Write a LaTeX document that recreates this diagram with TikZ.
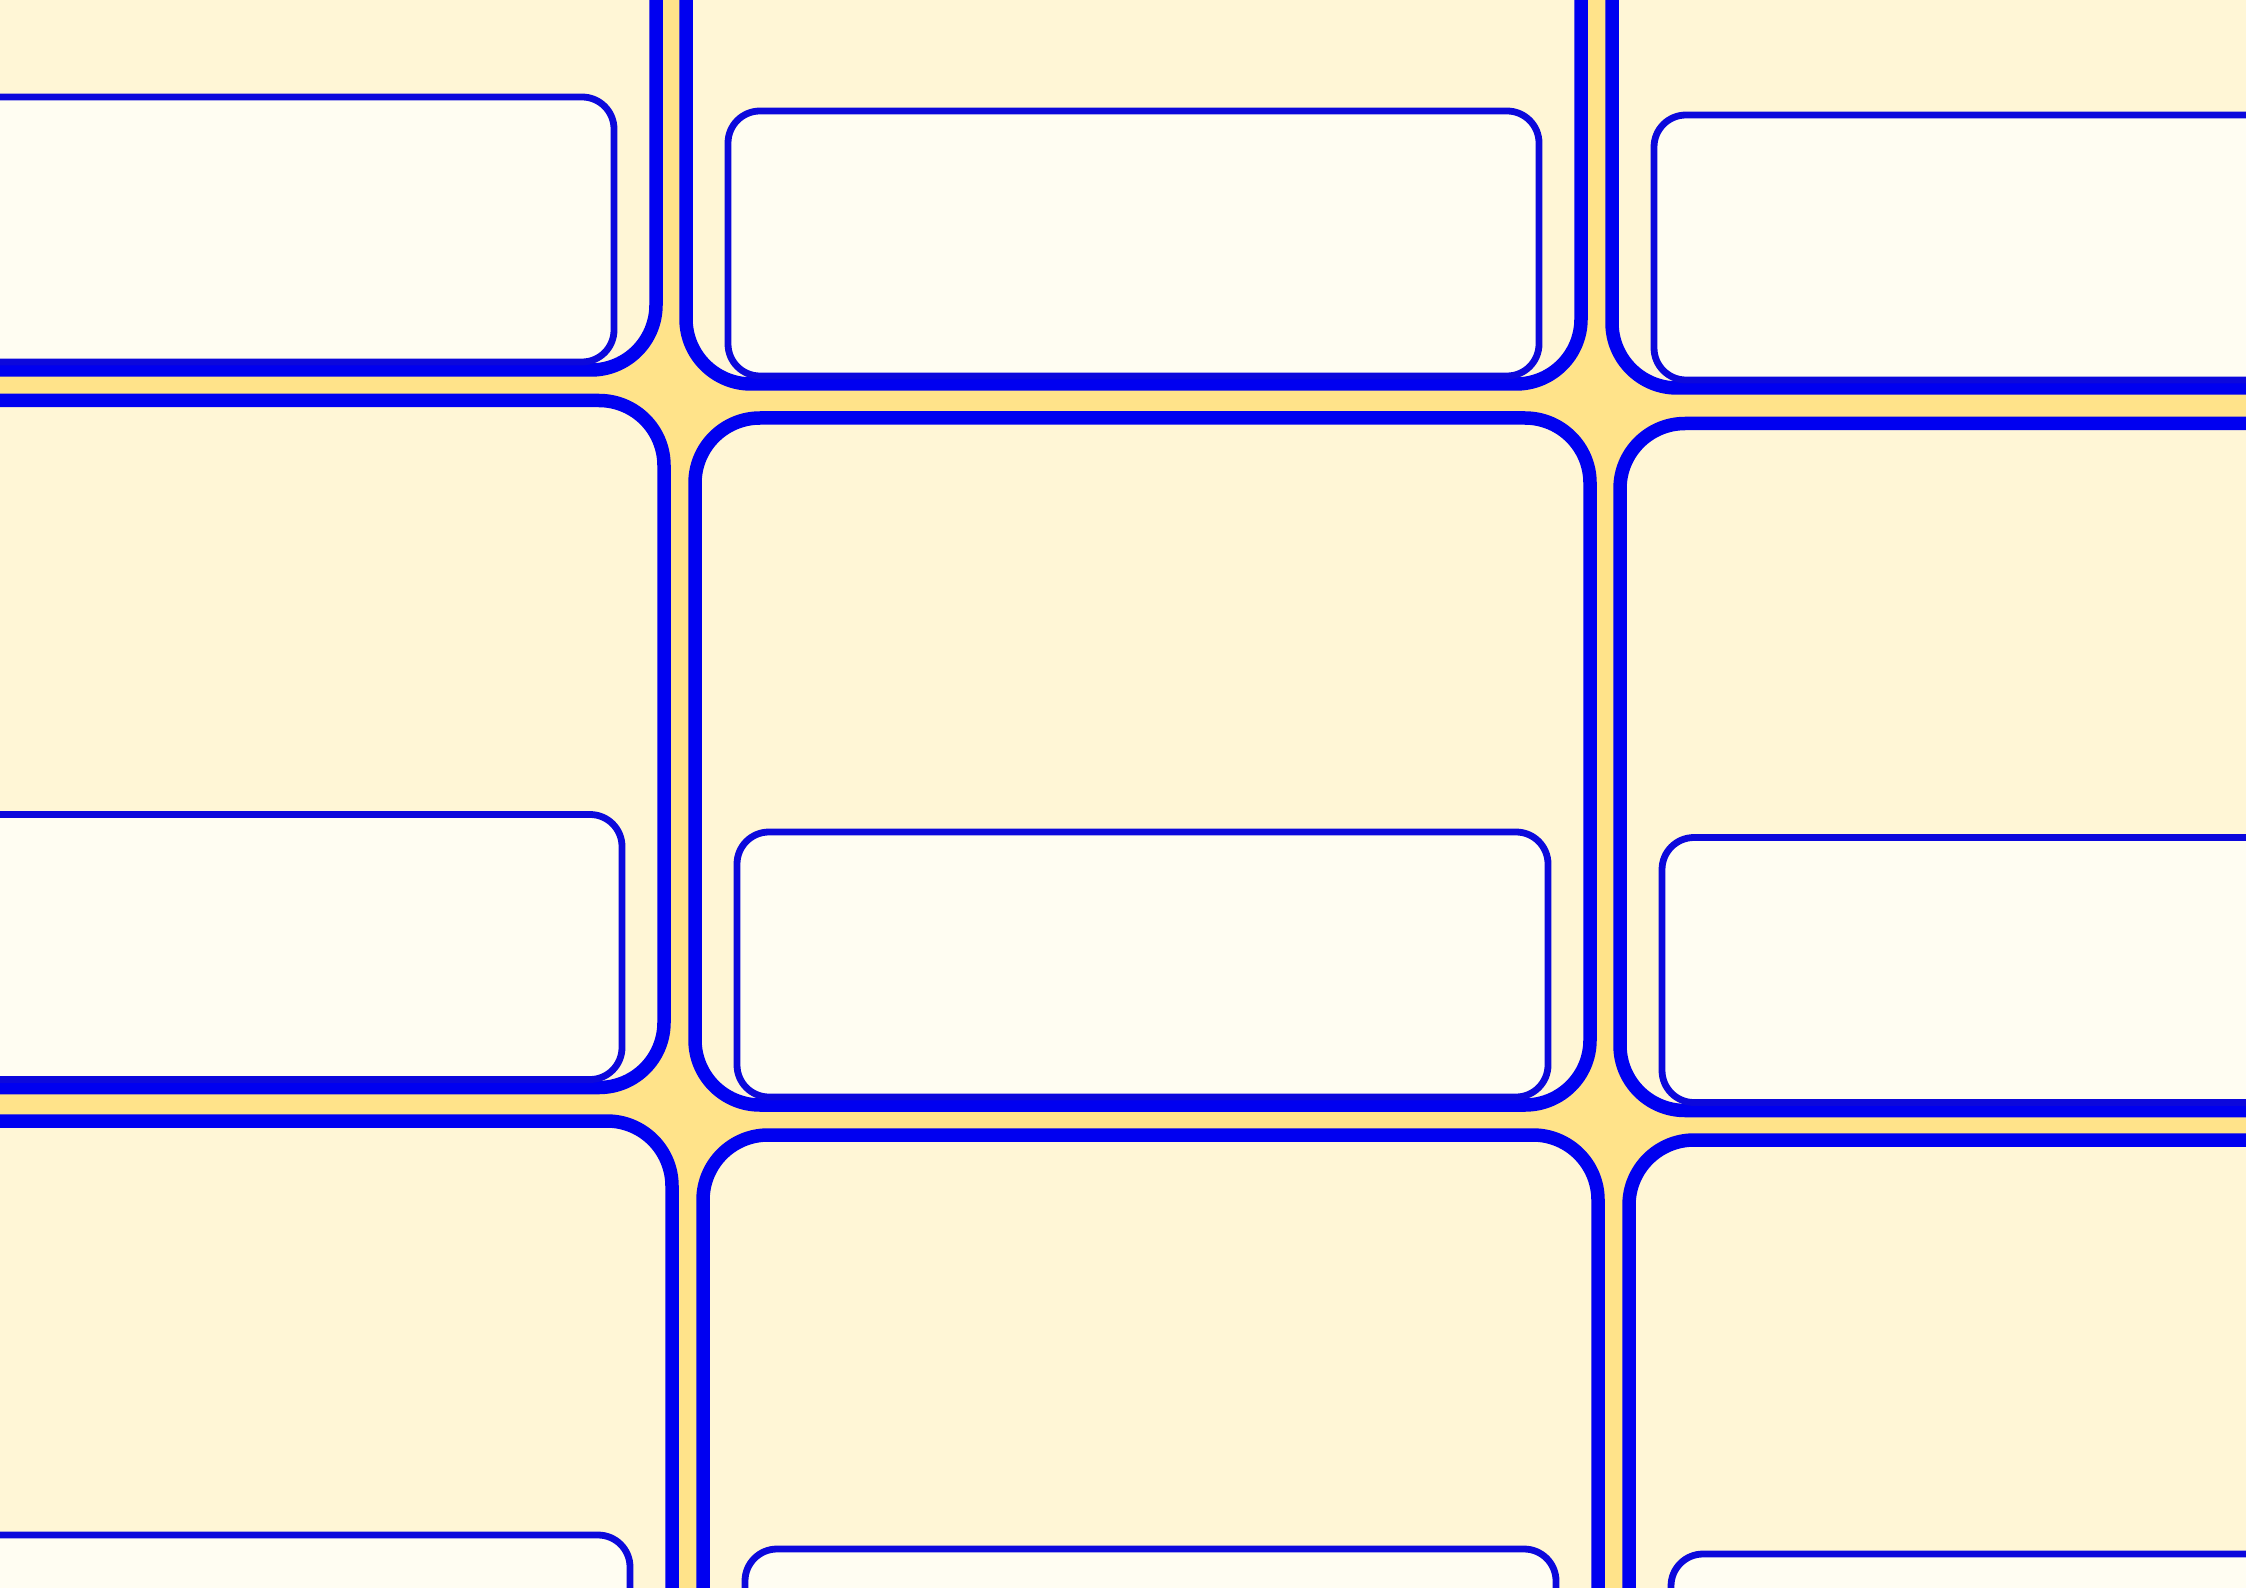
\documentclass[tikz,border=0pt]{standalone}
\definecolor{gold}{RGB}{255,227,138}
\definecolor{cream}{RGB}{255,246,214}
\definecolor{paper}{RGB}{255,253,242}
\definecolor{edge}{RGB}{0,0,240}
\definecolor{inedge}{RGB}{12,8,220}
\begin{document}
\begin{tikzpicture}[x=0.5pt,y=-0.5pt,
  card/.style={draw=edge, fill=cream, line width=6.75pt, rounded corners=32.5pt,
    minimum width=447.5pt, minimum height=343.5pt, inner sep=0pt, outer sep=0pt},
  slot/.style={draw=inedge, fill=paper, line width=3.4pt, rounded corners=16pt,
    minimum width=405.5pt, minimum height=132.5pt, inner sep=0pt, outer sep=0pt,
    anchor=south}]
\fill[gold] (0,0) rectangle (2246,1588);
\useasboundingbox (0,0) rectangle (2246,1588);
\clip (0,0) rectangle (2246,1588);
% cards
\node[card] (c11) at (208.5,26.5) {};
\node[card] (c21) at (216.5,744) {};
\node[card] (c31) at (224.5,1464.5) {};
\node[card] (c12) at (1133.5,40.5) {};
\node[card] (c22) at (1142.5,761.5) {};
\node[card] (c32) at (1150.5,1478.5) {};
\node[card] (c13) at (2059.5,44.5) {};
\node[card] (c23) at (2067.5,767) {};
\node[card] (c33) at (2076.5,1483.5) {};
% inner slots
\foreach \c in {c11,c21,c31,c12,c22,c32,c13,c23,c33}{
  \node[slot] (s\c) at ([yshift=4pt]\c.south) {};
}
\end{tikzpicture}
\end{document}
